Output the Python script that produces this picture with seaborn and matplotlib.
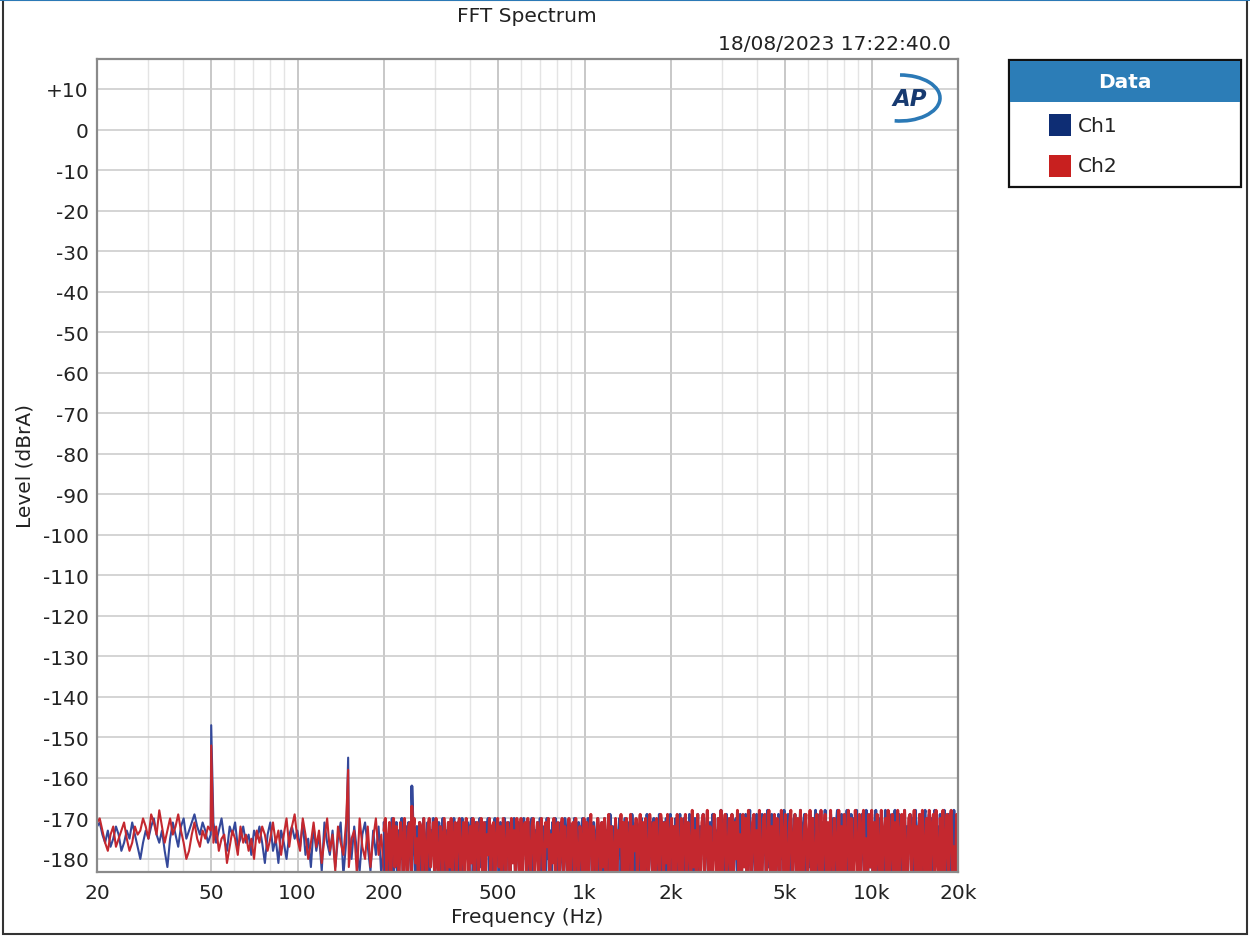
import numpy as np
import pandas as pd
import matplotlib
matplotlib.use("Agg")
import matplotlib.pyplot as plt
from matplotlib.patches import Rectangle, Arc
import seaborn as sns

# ---------------- data ----------------
channels = ["Ch1", "Ch2"]

# low band 20 Hz .. 200 Hz
low_band_hz = (20, 200)
ch1_low_db = [
    -172, -171, -174, -176, -173, -177, -175, -172, -174, -178, -176, -173, -175, -171, -174, -177, -180, -176, -173, -175,
    -172, -170, -174, -176, -173, -178, -182, -175, -171, -174, -177, -172, -170, -175, -173, -171, -169, -172, -174, -171,
    -173, -176,
    -174, -171, -176, -173, -170, -175, -178, -172, -174, -171, -177, -175, -172, -176, -174, -179, -173, -175,
    -172, -176, -181, -174, -171, -178, -175, -181, -173, -176, -180, -174, -172, -175, -173, -177, -171, -179, -175, -182,
    -172, -178, -174, -183, -171, -176, -179, -173, -182, -175, -171, -184, -176, -173, -180, -172, -178, -183, -174, -171,
    -177, -183, -173, -179, -172, -184, -175,
]
ch2_low_db = [
    -171, -170, -173, -176, -178, -174, -172, -177, -175, -173, -171, -175, -178, -176, -172, -174, -173, -170, -172, -175,
    -169, -171, -174, -168, -172, -176, -173, -170, -174, -172, -169, -173, -176, -180, -178, -174, -171, -175, -177, -173,
    -175, -172,
    -173, -176, -172, -178, -175, -174, -181, -177, -173, -175, -179, -172, -176, -174, -178, -175, -180, -173,
    -176, -172, -174, -178, -175, -171, -176, -173, -179, -174, -170, -177, -172, -169, -175, -178, -170, -174, -180, -176,
    -171, -177, -173, -181, -175, -170, -178, -174, -183, -172, -176, -179, -171, -182, -175, -173, -184, -170, -177, -180,
    -172, -182, -175, -170, -179, -174, -184,
]

# high band 200 Hz .. 20 kHz
high_band_hz = (200, 20000)
ch1_high_db = [
    -171, -183, -174, -185, -172, -179, -170, -184, -176, -171, -185, -173, -180, -170, -186, -175, -172, -183, -171, -178,
    -184, -170, -177, -185, -172, -181, -171, -186, -174, -170, -183, -176, -171, -185, -173, -179, -170, -186, -172, -182,
    -171, -185, -175, -170, -184, -173, -180, -171, -186, -172, -178, -170, -185, -174, -171, -183, -176, -170, -186, -173,
    -179, -171, -185, -172, -170, -184, -177, -171, -186, -174, -170, -182, -173, -185, -171, -178, -170, -186, -175, -172,
    -184, -170, -180, -173, -186, -171, -176, -185, -170, -183, -174, -171, -186, -172, -179, -170, -185, -175, -171, -184,
    -172, -186, -170, -178, -174, -185, -171, -182, -170, -186, -173, -177, -171, -185, -170, -183, -175, -172, -186, -170,
    -180, -173, -185, -171, -176, -170, -186, -172, -183, -171, -179, -185, -170, -174, -186, -171, -181, -172, -185, -170,
    -177, -184, -171, -186, -173, -170, -182, -175, -185, -170, -179, -172, -186, -171, -184, -174, -170, -185, -176, -171,
    -186, -170, -181, -173, -185, -169, -178, -172, -186, -171, -183, -175, -170, -185, -172, -180, -170, -186, -174, -171,
    -184, -169, -177, -186, -171, -182, -173, -185, -170, -179, -172, -186, -169, -184, -175, -171, -185, -170, -181, -173,
    -186, -169, -176, -185, -171, -183, -170, -186, -174, -169, -184, -172, -180, -170, -186, -173, -169, -185, -177, -170,
    -183, -171, -186, -169, -179, -174, -185, -170, -182, -169, -186, -172, -177, -169, -185, -175, -170, -184, -171, -186,
    -169, -180, -173, -186, -170, -184, -168, -178, -185, -171, -169, -186, -174, -182, -169, -185, -172, -170, -186, -176,
    -169, -184, -171, -181, -169, -186, -173, -168, -185, -177, -170, -186, -169, -183, -172, -185, -169, -179, -171, -186,
    -168, -182, -174, -169, -185, -170, -186, -176, -169, -184, -171, -180, -168, -186, -173, -169, -185, -170, -183, -175,
    -169, -186, -171, -178, -168, -185, -172, -169, -186, -174, -182, -169, -185, -170, -177, -168, -186, -173, -169, -184,
    -171, -185, -168, -180, -174, -186, -169, -183, -170, -185, -172, -168, -186, -176, -169, -184, -171, -181, -168, -186,
    -173, -169, -185, -170, -179, -168, -186, -172, -184, -169, -177, -185, -168, -186, -171, -182, -169, -185, -174, -168,
    -186, -170, -183, -169, -178, -185, -168, -186, -173, -169, -184, -171, -180, -168, -186, -175, -169, -185, -170, -183,
    -168, -186, -172, -177, -169, -185, -170, -184, -168, -186, -174, -169, -181, -185, -170, -168, -186, -173, -169, -184,
    -170, -185, -168, -179, -172, -186, -169, -183, -171, -168, -185, -176, -169, -186, -170, -182, -168, -185, -173, -169,
]
ch2_high_db = [
    -173, -170, -184, -176, -171, -185, -174, -170, -182, -172, -177, -186, -171, -175, -183, -170, -179, -185, -172, -171,
    -186, -174, -170, -181, -175, -185, -171, -172, -184, -170, -178, -186, -173, -170, -182, -176, -171, -185, -170, -180,
    -186, -172, -174, -185, -170, -177, -184, -171, -182, -170, -186, -175, -171, -183, -172, -170, -185, -178, -171, -186,
    -170, -176, -184, -172, -181, -170, -186, -173, -171, -185, -175, -170, -183, -171, -186, -174, -179, -170, -185, -172,
    -171, -186, -175, -170, -182, -172, -185, -170, -178, -186, -171, -174, -184, -170, -181, -173, -186, -170, -176, -185,
    -170, -183, -173, -171, -186, -170, -179, -184, -172, -170, -185, -176, -171, -186, -173, -170, -182, -185, -171, -177,
    -170, -186, -174, -181, -170, -185, -172, -171, -186, -175, -170, -183, -172, -178, -185, -170, -186, -173, -171, -184,
    -170, -180, -186, -172, -175, -185, -170, -183, -171, -186, -174, -169, -184, -172, -179, -186, -170, -173, -185, -171,
    -182, -170, -186, -175, -169, -184, -172, -180, -185, -170, -186, -173, -177, -169, -185, -171, -183, -170, -186, -176,
    -169, -185, -172, -178, -170, -186, -174, -169, -183, -171, -185, -170, -180, -186, -169, -175, -184, -171, -186, -170,
    -178, -185, -169, -172, -186, -171, -181, -169, -185, -174, -170, -186, -172, -183, -169, -179, -185, -170, -186, -173,
    -169, -184, -171, -177, -186, -168, -182, -173, -185, -169, -180, -186, -171, -169, -185, -174, -168, -186, -172, -181,
    -185, -169, -176, -186, -170, -183, -168, -185, -173, -169, -186, -178, -170, -184, -169, -186, -171, -180, -168, -185,
    -174, -186, -169, -182, -170, -185, -168, -177, -186, -171, -169, -184, -173, -185, -168, -181, -186, -170, -169, -185,
    -176, -168, -186, -172, -183, -169, -185, -170, -179, -186, -168, -174, -185, -169, -182, -186, -171, -168, -185, -177,
    -169, -186, -170, -184, -168, -181, -185, -172, -169, -186, -175, -168, -185, -170, -183, -186, -169, -178, -185, -168,
    -186, -173, -169, -184, -171, -186, -168, -180, -185, -170, -176, -186, -168, -183, -172, -185, -169, -186, -174, -168,
    -185, -170, -181, -186, -168, -177, -185, -169, -186, -172, -168, -184, -175, -186, -169, -182, -168, -185, -171, -186,
    -169, -179, -185, -168, -186, -173, -170, -184, -168, -186, -176, -169, -185, -171, -183, -168, -186, -174, -169, -185,
    -168, -181, -186, -170, -169, -185, -174, -168, -186, -172, -183, -169, -185, -168, -178, -186, -170, -184, -168, -186,
    -172, -169, -185, -168, -180, -186, -170, -183, -168, -185, -175, -169, -186, -171, -168, -184, -177, -185, -169, -170,
]

# mains hum peaks
peak_freqs_hz = [50, 150, 250]
ch1_peak_db = [-147, -155, -162]
ch2_peak_db = [-152, -158, -167]

x_ticks = [20, 50, 100, 200, 500, 1000, 2000, 5000, 10000, 20000]
x_tick_labels = ["20", "50", "100", "200", "500", "1k", "2k", "5k", "10k", "20k"]
y_ticks = list(range(10, -190, -10))
y_tick_labels = ["+10" if v > 0 else str(v) for v in y_ticks]

title_text = "FFT Spectrum"
stamp_text = "18/08/2023 17:22:40.0"
xlabel_text = "Frequency (Hz)"
ylabel_text = "Level (dBrA)"
legend_title = "Data"

colors = {"Ch1": "#34489a", "Ch2": "#c4282f"}
legend_colors = {"Ch1": "#0e2d74", "Ch2": "#c8201f"}

# ---------------- build long-form table ----------------
rows = []
series = [("Ch1", ch1_low_db, ch1_high_db, ch1_peak_db),
          ("Ch2", ch2_low_db, ch2_high_db, ch2_peak_db)]
for ch, low, high, peaks in series:
    for band, (f0, f1), vals in [("low", low_band_hz, low), ("high", high_band_hz, high)]:
        freqs = np.geomspace(f0, f1, len(vals))
        rows += [(ch, band, f, v) for f, v in zip(freqs, vals)]
    for f, v in zip(peak_freqs_hz, peaks):
        band = "low" if f < high_band_hz[0] else "high"
        rows.append((ch, band, f, v))
df = pd.DataFrame(rows, columns=["channel", "band", "freq", "level"])

# ---------------- figure ----------------
sns.set_theme(style="white")
plt.rcParams["font.family"] = ["DejaVu Sans"]
FS = 14.5
TXT = "#222222"

W, H = 1250, 937
fig = plt.figure(figsize=(W / 100, H / 100), dpi=100)
fig.patch.set_facecolor("white")

def fx(px):
    return px / W

def fy(py):
    return 1 - py / H

AX_L, AX_R, AX_T, AX_B = 97, 958, 60, 872.5
ax = fig.add_axes([fx(AX_L), fy(AX_B), fx(AX_R) - fx(AX_L), fy(AX_T) - fy(AX_B)])

for band, lw in [("low", 1.5), ("high", 2.1)]:
    sns.lineplot(data=df[df["band"] == band], x="freq", y="level", hue="channel",
                 hue_order=channels, palette=colors, estimator=None, sort=True,
                 lw=lw, legend=False, ax=ax)

ax.set_xscale("log")
ax.set_xlim(20, 20000)
ax.set_ylim(-183.1, 17.4)

ax.set_xticks(x_ticks)
ax.set_xticklabels(x_tick_labels)
minor = [m * d for d in [10, 100, 1000, 10000] for m in range(2, 10)]
minor = [m for m in minor if 20 <= m <= 20000 and m not in x_ticks]
ax.set_xticks(minor, minor=True)
ax.set_xticklabels([], minor=True)
ax.set_yticks(y_ticks)
ax.set_yticklabels(y_tick_labels)
ax.set_xlabel("")
ax.set_ylabel("")

ax.grid(which="major", axis="x", color="#c4c4c4", lw=1.3)
ax.grid(which="minor", axis="x", color="#e4e4e4", lw=1.0)
ax.grid(which="major", axis="y", color="#cdcdcd", lw=1.2)
ax.set_axisbelow(True)
ax.tick_params(axis="both", which="both", length=0, labelsize=FS, colors=TXT)
ax.tick_params(axis="x", pad=8)
ax.tick_params(axis="y", pad=6)
for s in ax.spines.values():
    s.set_color("#8a8a8a")
    s.set_linewidth(1.6)
ax.set_xlabel(xlabel_text, fontsize=FS, color=TXT)
ax.set_ylabel(ylabel_text, fontsize=FS, color=TXT)
ax.xaxis.set_label_coords((527 - AX_L) / (AX_R - AX_L), -(908 - AX_B) / (AX_B - AX_T))
ax.yaxis.set_label_coords(-(AX_L - 35) / (AX_R - AX_L), 0.5)

# title and timestamp
fig.text(fx(527), fy(16), title_text, ha="center", va="center", fontsize=FS, color=TXT)
fig.text(fx(951), fy(44), stamp_text, ha="right", va="center", fontsize=FS, color=TXT)

# AP logo
fig.text(fx(910), fy(100), "AP", ha="center", va="center", fontsize=16.5, fontweight="bold",
         fontstyle="italic", color="#173a70")
fig.patches.append(Arc((fx(900), fy(99)), fx(80), 46 / H, theta1=-100, theta2=90,
                       transform=fig.transFigure, color="#2b79b6", lw=2.6))

# legend panel
lx0, ly0, lx1, ly1 = 1009, 61, 1241, 188
fig.patches.append(Rectangle((fx(lx0), fy(ly1)), fx(lx1) - fx(lx0), fy(ly0) - fy(ly1),
                             transform=fig.transFigure, facecolor="white", edgecolor="#111111", lw=1.6, zorder=5))
fig.patches.append(Rectangle((fx(lx0 + 1), fy(103)), fx(lx1 - 1) - fx(lx0 + 1), fy(62) - fy(103),
                             transform=fig.transFigure, facecolor="#2c7db7", edgecolor="none", zorder=6))
fig.text(fx(1125), fy(83), legend_title, ha="center", va="center", fontsize=FS, fontweight="bold",
         color="white", zorder=7)
for ch, yc in zip(channels, [126, 167]):
    fig.patches.append(Rectangle((fx(1049), fy(yc + 11)), fx(22), 22 / H,
                                 transform=fig.transFigure, facecolor=legend_colors[ch],
                                 edgecolor="none", zorder=7))
    fig.text(fx(1078), fy(yc), ch, ha="left", va="center", fontsize=FS, color=TXT, zorder=7)

# outer window frame
fig.patches.append(Rectangle((fx(3), fy(935)), fx(1247) - fx(3), fy(1) - fy(935),
                             transform=fig.transFigure, facecolor="none", edgecolor="#333333", lw=1.5, zorder=1))
fig.patches.append(Rectangle((0, fy(2)), 1, 2 / H, transform=fig.transFigure,
                             facecolor="#2b79b6", edgecolor="none", zorder=2))

fig.savefig("out.png", dpi=100)
